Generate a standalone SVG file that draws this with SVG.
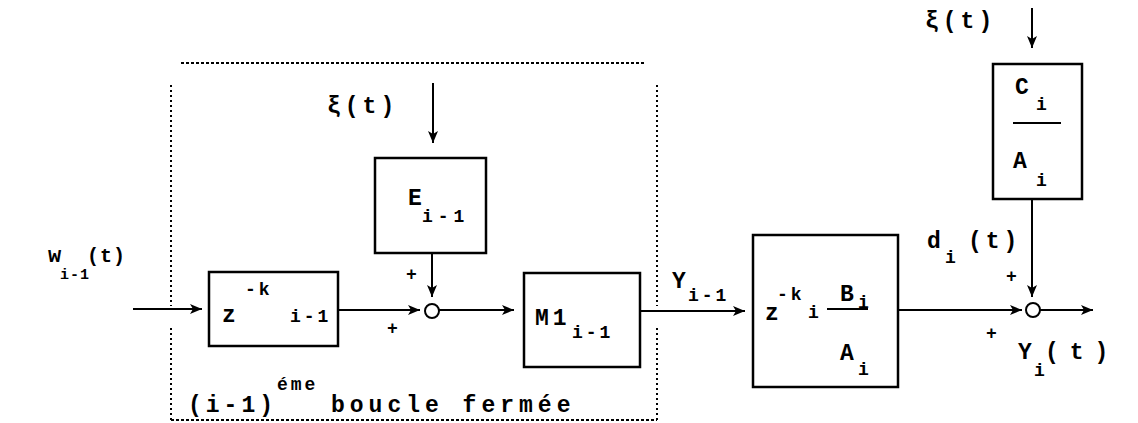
<svg xmlns="http://www.w3.org/2000/svg" width="1138" height="423" viewBox="0 0 1138 423">
<style>
.t{font-family:"Liberation Mono","DejaVu Sans Mono",monospace;font-weight:bold;font-size:23px;fill:#000;letter-spacing:4px}
.s{font-size:18px;letter-spacing:3px}
.box{fill:none;stroke:#000;stroke-width:2.5}
.ln{fill:none;stroke:#000;stroke-width:2}
.dot{fill:none;stroke:#000;stroke-width:2;stroke-dasharray:2 3}
.dash{fill:none;stroke:#000;stroke-width:2;stroke-dasharray:3 2}
.bar{stroke:#000;stroke-width:2}
</style>
<defs>
<marker id="ah" markerUnits="userSpaceOnUse" markerWidth="12" markerHeight="10" refX="12" refY="5" orient="auto">
<path d="M0,0 L12,5 L0,10 L3,5 Z" fill="#000"/>
</marker>
</defs>
<g id="loop-boundary">
<line class="dash" x1="181" y1="63" x2="646" y2="63"/>
<line class="dot" x1="171" y1="85" x2="171" y2="306"/>
<line class="dot" x1="171" y1="328" x2="171" y2="420"/>
<line class="dot" x1="657" y1="85" x2="657" y2="306"/>
<line class="dot" x1="657" y1="328" x2="657" y2="420"/>
<line class="dash" x1="171" y1="420" x2="657" y2="420"/>
<text class="t" x="188" y="412">(i-1)</text>
<text class="t s" x="277" y="390">éme</text>
<text class="t" x="331" y="412" style="letter-spacing:5px">boucle fermée</text>
</g>
<g id="connectors">
<line class="ln" x1="133" y1="309" x2="202" y2="309" marker-end="url(#ah)"/>
<line class="ln" x1="338" y1="310" x2="420" y2="310" marker-end="url(#ah)"/>
<line class="ln" x1="439" y1="310" x2="514" y2="310" marker-end="url(#ah)"/>
<line class="ln" x1="433" y1="83" x2="433" y2="143" marker-end="url(#ah)"/>
<line class="ln" x1="432" y1="253" x2="432" y2="297" marker-end="url(#ah)"/>
<line class="ln" x1="640" y1="311" x2="745" y2="311" marker-end="url(#ah)"/>
<line class="ln" x1="898" y1="310" x2="1022" y2="310" marker-end="url(#ah)"/>
<line class="ln" x1="1040" y1="310" x2="1093" y2="310" marker-end="url(#ah)"/>
<line class="ln" x1="1032" y1="8" x2="1032" y2="48" marker-end="url(#ah)"/>
<line class="ln" x1="1032" y1="199" x2="1032" y2="297" marker-end="url(#ah)"/>
<text class="t" x="48" y="262" style="font-size:22px">w</text>
<text class="t s" x="60" y="279" style="font-size:15px;letter-spacing:1px">i-1</text>
<text class="t" x="87" y="262" style="font-size:20px;letter-spacing:1px">(t)</text>
<text class="t" x="327" y="113">ξ(t)</text>
<text class="t" x="925" y="28">ξ(t)</text>
<text class="t s" x="406" y="280">+</text>
<text class="t s" x="387" y="334">+</text>
<text class="t s" x="1006" y="282">+</text>
<text class="t s" x="986" y="339">+</text>
<text class="t" x="672" y="288">Y</text>
<text class="t s" x="688" y="301">i-1</text>
<text class="t" x="927" y="248">d</text>
<text class="t s" x="945" y="263">i</text>
<text class="t" x="968" y="248">(t)</text>
<text class="t" x="1018" y="359">Y</text>
<text class="t s" x="1034" y="376">i</text>
<text class="t" x="1045" y="359" style="letter-spacing:11px">(t)</text>
</g>
<g id="sum1">
<circle class="ln" cx="432" cy="311" r="7"/>
</g>
<g id="sum2">
<circle class="ln" cx="1033" cy="310" r="7"/>
</g>
<g id="delay">
<rect class="box" x="209" y="272" width="129" height="74"/>
<text class="t" x="222" y="322">z</text>
<text class="t s" x="245" y="295">-k</text>
<text class="t s" x="290" y="322">i-1</text>
</g>
<g id="E">
<rect class="box" x="375" y="158" width="111" height="95"/>
<text class="t" x="408" y="205">E</text>
<text class="t s" x="422" y="222" style="letter-spacing:5px">i-1</text>
</g>
<g id="M1">
<rect class="box" x="524" y="273" width="116" height="94"/>
<text class="t" x="535" y="325">M1</text>
<text class="t s" x="572" y="338">i-1</text>
</g>
<g id="plant">
<rect class="box" x="753" y="235" width="145" height="152"/>
<text class="t" x="765" y="320">z</text>
<text class="t s" x="777" y="300">-k</text>
<text class="t s" x="808" y="318">i</text>
<line class="bar" x1="827" y1="309" x2="868" y2="309"/>
<text class="t" x="840" y="301">B</text>
<text class="t s" x="858" y="308">i</text>
<text class="t" x="840" y="360">A</text>
<text class="t s" x="858" y="375">i</text>
</g>
<g id="noise">
<rect class="box" x="993" y="64" width="89" height="135"/>
<text class="t" x="1015" y="94">C</text>
<text class="t s" x="1036" y="110">i</text>
<line class="bar" x1="1013" y1="123" x2="1061" y2="123"/>
<text class="t" x="1013" y="168">A</text>
<text class="t s" x="1036" y="186">i</text>
</g>
</svg>
